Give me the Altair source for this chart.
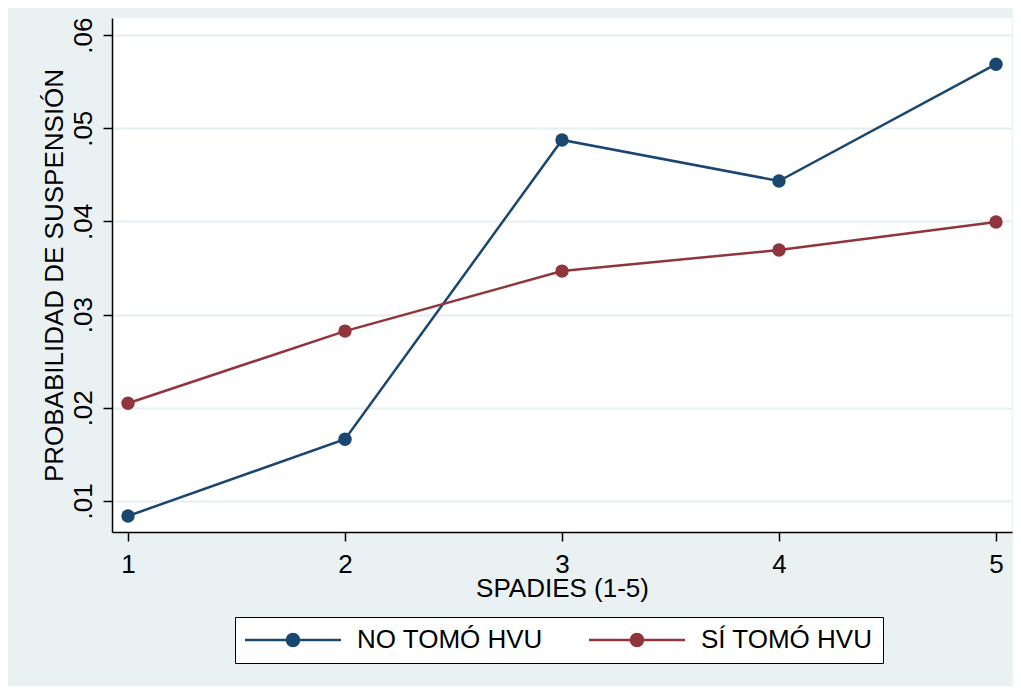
import altair as alt
import pandas as pd

spadies = [1, 2, 3, 4, 5]
no_tomo = [0.00839, 0.01663, 0.04874, 0.04434, 0.05687]
si_tomo = [0.02049, 0.02823, 0.03467, 0.03693, 0.03994]
series_names = ["NO TOMÓ HVU", "SÍ TOMÓ HVU"]
series_colors = ["#1a476f", "#90353b"]
y_ticks = [0.01, 0.02, 0.03, 0.04, 0.05, 0.06]

rows = []
for name, vals in zip(series_names, [no_tomo, si_tomo]):
    for x, v in zip(spadies, vals):
        rows.append({"spadies": x, "prob": v, "serie": name})
df = pd.DataFrame(rows)

FONT = "Liberation Sans"
FS = 26
sym_path = "M-2.17,0L13.83,0M4.83,0A1,1,0,1,1,6.83,0A1,1,0,1,1,4.83,0Z"

base = alt.Chart(df).encode(
    x=alt.X("spadies:Q",
            scale=alt.Scale(domain=[0.9263, 5.0737], nice=False, zero=False),
            axis=alt.Axis(values=spadies, title="SPADIES (1-5)", grid=False,
                          labelFontSize=FS, titleFontSize=FS, labelFont=FONT, titleFont=FONT,
                          labelColor="black", titleColor="black", titleFontWeight="normal",
                          tickSize=9, labelPadding=31, labelBaseline="alphabetic",
                          titleBaseline="alphabetic", titleX=450, titleY=64,
                          domainColor="black", tickColor="black", domainWidth=1.5, tickWidth=1.5)),
    y=alt.Y("prob:Q",
            scale=alt.Scale(domain=[0.00667, 0.06183], nice=False, zero=False),
            axis=alt.Axis(values=y_ticks, title="PROBABILIDAD DE SUSPENSIÓN",
                          labelExpr="substring(format(datum.value, '.2f'), 1)",
                          labelAngle=270, labelAlign="center", labelBaseline="alphabetic",
                          labelFontSize=FS, titleFontSize=FS, labelFont=FONT, titleFont=FONT,
                          labelColor="black", titleColor="black", titleFontWeight="normal",
                          tickSize=9, labelPadding=12,
                          titleAngle=270, titleAlign="center", titleBaseline="alphabetic",
                          titleX=-50, titleY=257,
                          grid=True, gridColor="#e5eef1", gridWidth=2,
                          domainColor="black", tickColor="black", domainWidth=1.5, tickWidth=1.5)),
    color=alt.Color("serie:N",
                    scale=alt.Scale(domain=series_names, range=series_colors),
                    legend=alt.Legend(title=None, orient="none", legendX=123, legendY=599,
                                      direction="horizontal", labelFont=FONT, labelFontSize=FS,
                                      labelColor="black", labelLimit=0,
                                      symbolType=sym_path, symbolSize=144,
                                      symbolStrokeWidth=2.5, labelOffset=86, columnPadding=40,
                                      padding=10, strokeColor="black", fillColor="white")),
)

chart = base.mark_line(strokeWidth=2.5, point=alt.OverlayMarkDef(filled=True, size=180, opacity=1)).properties(
    width=900, height=514,
    autosize=alt.AutoSizeParams(type="none"),
    padding={"left": 104, "top": 10, "right": 1, "bottom": 154},
    background="#eaf1f3",
).configure_view(fill="white", stroke=None)

chart.save("out.html", embed_options={"renderer": "svg", "actions": False})
